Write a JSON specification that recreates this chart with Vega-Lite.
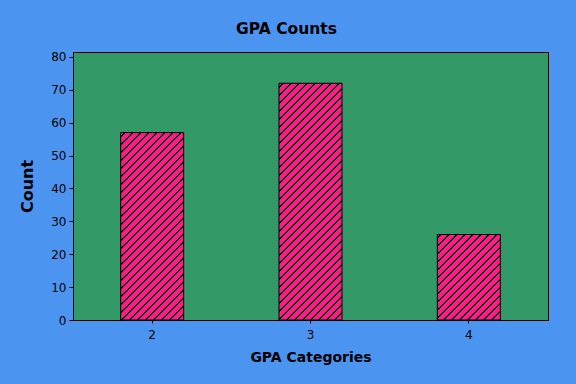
{
  "$schema": "https://vega.github.io/schema/vega-lite/v6.json",
  "width": 475,
  "height": 268,
  "autosize": {"type": "none"},
  "padding": {"left": 73, "top": 52, "right": 28, "bottom": 64},
  "background": "#4b95f1",
  "title": {"text": "GPA Counts", "font": "DejaVu Sans", "fontSize": 15.5, "fontWeight": "bold", "color": "#000000", "anchor": "middle", "frame": "group", "dx": -24, "offset": 1, "baseline": "alphabetic"},
  "data": {"values": [{"cat": 2, "count": 57}, {"cat": 3, "count": 72}, {"cat": 4, "count": 26}]},
  "encoding": {
    "x": {"field": "cat", "type": "ordinal", "scale": {"domain": [2, 3, 4], "paddingInner": 0.602, "paddingOuter": 0.301}, "axis": {"title": "GPA Categories", "labelAngle": 0, "titleFontSize": 14, "titlePadding": 10, "tickSize": 3, "labelPadding": 6}},
    "y": {"field": "count", "type": "quantitative", "scale": {"domain": [0, 81.5], "nice": false}, "axis": {"title": "Count", "values": [0, 10, 20, 30, 40, 50, 60, 70, 80], "titleFontSize": 16, "titlePadding": 15, "tickSize": 4, "labelPadding": 3}}
  },
  "layer": [
    {"transform": [{"filter": "datum.cat == 2"}], "mark": {"type": "bar", "stroke": "#000000", "strokeWidth": 1, "fill": {"gradient": "linear", "x1": 0, "y1": 0, "x2": 0.5158, "y2": 1.5342, "stops": [
      {"offset":0.0094,"color":"#ff1a8c"},{"offset":0.0094,"color":"#000"},{"offset":0.0156,"color":"#000"},{"offset":0.0156,"color":"#ff1a8c"},
      {"offset":0.0344,"color":"#ff1a8c"},{"offset":0.0344,"color":"#000"},{"offset":0.0406,"color":"#000"},{"offset":0.0406,"color":"#ff1a8c"},
      {"offset":0.0594,"color":"#ff1a8c"},{"offset":0.0594,"color":"#000"},{"offset":0.0656,"color":"#000"},{"offset":0.0656,"color":"#ff1a8c"},
      {"offset":0.0844,"color":"#ff1a8c"},{"offset":0.0844,"color":"#000"},{"offset":0.0906,"color":"#000"},{"offset":0.0906,"color":"#ff1a8c"},
      {"offset":0.1094,"color":"#ff1a8c"},{"offset":0.1094,"color":"#000"},{"offset":0.1156,"color":"#000"},{"offset":0.1156,"color":"#ff1a8c"},
      {"offset":0.1344,"color":"#ff1a8c"},{"offset":0.1344,"color":"#000"},{"offset":0.1406,"color":"#000"},{"offset":0.1406,"color":"#ff1a8c"},
      {"offset":0.1594,"color":"#ff1a8c"},{"offset":0.1594,"color":"#000"},{"offset":0.1656,"color":"#000"},{"offset":0.1656,"color":"#ff1a8c"},
      {"offset":0.1844,"color":"#ff1a8c"},{"offset":0.1844,"color":"#000"},{"offset":0.1906,"color":"#000"},{"offset":0.1906,"color":"#ff1a8c"},
      {"offset":0.2094,"color":"#ff1a8c"},{"offset":0.2094,"color":"#000"},{"offset":0.2156,"color":"#000"},{"offset":0.2156,"color":"#ff1a8c"},
      {"offset":0.2344,"color":"#ff1a8c"},{"offset":0.2344,"color":"#000"},{"offset":0.2406,"color":"#000"},{"offset":0.2406,"color":"#ff1a8c"},
      {"offset":0.2594,"color":"#ff1a8c"},{"offset":0.2594,"color":"#000"},{"offset":0.2656,"color":"#000"},{"offset":0.2656,"color":"#ff1a8c"},
      {"offset":0.2844,"color":"#ff1a8c"},{"offset":0.2844,"color":"#000"},{"offset":0.2906,"color":"#000"},{"offset":0.2906,"color":"#ff1a8c"},
      {"offset":0.3094,"color":"#ff1a8c"},{"offset":0.3094,"color":"#000"},{"offset":0.3156,"color":"#000"},{"offset":0.3156,"color":"#ff1a8c"},
      {"offset":0.3344,"color":"#ff1a8c"},{"offset":0.3344,"color":"#000"},{"offset":0.3406,"color":"#000"},{"offset":0.3406,"color":"#ff1a8c"},
      {"offset":0.3594,"color":"#ff1a8c"},{"offset":0.3594,"color":"#000"},{"offset":0.3656,"color":"#000"},{"offset":0.3656,"color":"#ff1a8c"},
      {"offset":0.3844,"color":"#ff1a8c"},{"offset":0.3844,"color":"#000"},{"offset":0.3906,"color":"#000"},{"offset":0.3906,"color":"#ff1a8c"},
      {"offset":0.4094,"color":"#ff1a8c"},{"offset":0.4094,"color":"#000"},{"offset":0.4156,"color":"#000"},{"offset":0.4156,"color":"#ff1a8c"},
      {"offset":0.4344,"color":"#ff1a8c"},{"offset":0.4344,"color":"#000"},{"offset":0.4406,"color":"#000"},{"offset":0.4406,"color":"#ff1a8c"},
      {"offset":0.4594,"color":"#ff1a8c"},{"offset":0.4594,"color":"#000"},{"offset":0.4656,"color":"#000"},{"offset":0.4656,"color":"#ff1a8c"},
      {"offset":0.4844,"color":"#ff1a8c"},{"offset":0.4844,"color":"#000"},{"offset":0.4906,"color":"#000"},{"offset":0.4906,"color":"#ff1a8c"},
      {"offset":0.5094,"color":"#ff1a8c"},{"offset":0.5094,"color":"#000"},{"offset":0.5156,"color":"#000"},{"offset":0.5156,"color":"#ff1a8c"},
      {"offset":0.5344,"color":"#ff1a8c"},{"offset":0.5344,"color":"#000"},{"offset":0.5406,"color":"#000"},{"offset":0.5406,"color":"#ff1a8c"},
      {"offset":0.5594,"color":"#ff1a8c"},{"offset":0.5594,"color":"#000"},{"offset":0.5656,"color":"#000"},{"offset":0.5656,"color":"#ff1a8c"},
      {"offset":0.5844,"color":"#ff1a8c"},{"offset":0.5844,"color":"#000"},{"offset":0.5906,"color":"#000"},{"offset":0.5906,"color":"#ff1a8c"},
      {"offset":0.6094,"color":"#ff1a8c"},{"offset":0.6094,"color":"#000"},{"offset":0.6156,"color":"#000"},{"offset":0.6156,"color":"#ff1a8c"},
      {"offset":0.6344,"color":"#ff1a8c"},{"offset":0.6344,"color":"#000"},{"offset":0.6406,"color":"#000"},{"offset":0.6406,"color":"#ff1a8c"},
      {"offset":0.6594,"color":"#ff1a8c"},{"offset":0.6594,"color":"#000"},{"offset":0.6656,"color":"#000"},{"offset":0.6656,"color":"#ff1a8c"},
      {"offset":0.6844,"color":"#ff1a8c"},{"offset":0.6844,"color":"#000"},{"offset":0.6906,"color":"#000"},{"offset":0.6906,"color":"#ff1a8c"},
      {"offset":0.7094,"color":"#ff1a8c"},{"offset":0.7094,"color":"#000"},{"offset":0.7156,"color":"#000"},{"offset":0.7156,"color":"#ff1a8c"},
      {"offset":0.7344,"color":"#ff1a8c"},{"offset":0.7344,"color":"#000"},{"offset":0.7406,"color":"#000"},{"offset":0.7406,"color":"#ff1a8c"},
      {"offset":0.7594,"color":"#ff1a8c"},{"offset":0.7594,"color":"#000"},{"offset":0.7656,"color":"#000"},{"offset":0.7656,"color":"#ff1a8c"},
      {"offset":0.7844,"color":"#ff1a8c"},{"offset":0.7844,"color":"#000"},{"offset":0.7906,"color":"#000"},{"offset":0.7906,"color":"#ff1a8c"}
    ]}}},
    {"transform": [{"filter": "datum.cat == 3"}], "mark": {"type": "bar", "stroke": "#000000", "strokeWidth": 1, "fill": {"gradient": "linear", "x1": 0, "y1": 0, "x2": 0.3358, "y2": 1.262, "stops": [
      {"offset":0.0094,"color":"#ff1a8c"},{"offset":0.0094,"color":"#000"},{"offset":0.0156,"color":"#000"},{"offset":0.0156,"color":"#ff1a8c"},
      {"offset":0.0344,"color":"#ff1a8c"},{"offset":0.0344,"color":"#000"},{"offset":0.0406,"color":"#000"},{"offset":0.0406,"color":"#ff1a8c"},
      {"offset":0.0594,"color":"#ff1a8c"},{"offset":0.0594,"color":"#000"},{"offset":0.0656,"color":"#000"},{"offset":0.0656,"color":"#ff1a8c"},
      {"offset":0.0844,"color":"#ff1a8c"},{"offset":0.0844,"color":"#000"},{"offset":0.0906,"color":"#000"},{"offset":0.0906,"color":"#ff1a8c"},
      {"offset":0.1094,"color":"#ff1a8c"},{"offset":0.1094,"color":"#000"},{"offset":0.1156,"color":"#000"},{"offset":0.1156,"color":"#ff1a8c"},
      {"offset":0.1344,"color":"#ff1a8c"},{"offset":0.1344,"color":"#000"},{"offset":0.1406,"color":"#000"},{"offset":0.1406,"color":"#ff1a8c"},
      {"offset":0.1594,"color":"#ff1a8c"},{"offset":0.1594,"color":"#000"},{"offset":0.1656,"color":"#000"},{"offset":0.1656,"color":"#ff1a8c"},
      {"offset":0.1844,"color":"#ff1a8c"},{"offset":0.1844,"color":"#000"},{"offset":0.1906,"color":"#000"},{"offset":0.1906,"color":"#ff1a8c"},
      {"offset":0.2094,"color":"#ff1a8c"},{"offset":0.2094,"color":"#000"},{"offset":0.2156,"color":"#000"},{"offset":0.2156,"color":"#ff1a8c"},
      {"offset":0.2344,"color":"#ff1a8c"},{"offset":0.2344,"color":"#000"},{"offset":0.2406,"color":"#000"},{"offset":0.2406,"color":"#ff1a8c"},
      {"offset":0.2594,"color":"#ff1a8c"},{"offset":0.2594,"color":"#000"},{"offset":0.2656,"color":"#000"},{"offset":0.2656,"color":"#ff1a8c"},
      {"offset":0.2844,"color":"#ff1a8c"},{"offset":0.2844,"color":"#000"},{"offset":0.2906,"color":"#000"},{"offset":0.2906,"color":"#ff1a8c"},
      {"offset":0.3094,"color":"#ff1a8c"},{"offset":0.3094,"color":"#000"},{"offset":0.3156,"color":"#000"},{"offset":0.3156,"color":"#ff1a8c"},
      {"offset":0.3344,"color":"#ff1a8c"},{"offset":0.3344,"color":"#000"},{"offset":0.3406,"color":"#000"},{"offset":0.3406,"color":"#ff1a8c"},
      {"offset":0.3594,"color":"#ff1a8c"},{"offset":0.3594,"color":"#000"},{"offset":0.3656,"color":"#000"},{"offset":0.3656,"color":"#ff1a8c"},
      {"offset":0.3844,"color":"#ff1a8c"},{"offset":0.3844,"color":"#000"},{"offset":0.3906,"color":"#000"},{"offset":0.3906,"color":"#ff1a8c"},
      {"offset":0.4094,"color":"#ff1a8c"},{"offset":0.4094,"color":"#000"},{"offset":0.4156,"color":"#000"},{"offset":0.4156,"color":"#ff1a8c"},
      {"offset":0.4344,"color":"#ff1a8c"},{"offset":0.4344,"color":"#000"},{"offset":0.4406,"color":"#000"},{"offset":0.4406,"color":"#ff1a8c"},
      {"offset":0.4594,"color":"#ff1a8c"},{"offset":0.4594,"color":"#000"},{"offset":0.4656,"color":"#000"},{"offset":0.4656,"color":"#ff1a8c"},
      {"offset":0.4844,"color":"#ff1a8c"},{"offset":0.4844,"color":"#000"},{"offset":0.4906,"color":"#000"},{"offset":0.4906,"color":"#ff1a8c"},
      {"offset":0.5094,"color":"#ff1a8c"},{"offset":0.5094,"color":"#000"},{"offset":0.5156,"color":"#000"},{"offset":0.5156,"color":"#ff1a8c"},
      {"offset":0.5344,"color":"#ff1a8c"},{"offset":0.5344,"color":"#000"},{"offset":0.5406,"color":"#000"},{"offset":0.5406,"color":"#ff1a8c"},
      {"offset":0.5594,"color":"#ff1a8c"},{"offset":0.5594,"color":"#000"},{"offset":0.5656,"color":"#000"},{"offset":0.5656,"color":"#ff1a8c"},
      {"offset":0.5844,"color":"#ff1a8c"},{"offset":0.5844,"color":"#000"},{"offset":0.5906,"color":"#000"},{"offset":0.5906,"color":"#ff1a8c"},
      {"offset":0.6094,"color":"#ff1a8c"},{"offset":0.6094,"color":"#000"},{"offset":0.6156,"color":"#000"},{"offset":0.6156,"color":"#ff1a8c"},
      {"offset":0.6344,"color":"#ff1a8c"},{"offset":0.6344,"color":"#000"},{"offset":0.6406,"color":"#000"},{"offset":0.6406,"color":"#ff1a8c"},
      {"offset":0.6594,"color":"#ff1a8c"},{"offset":0.6594,"color":"#000"},{"offset":0.6656,"color":"#000"},{"offset":0.6656,"color":"#ff1a8c"},
      {"offset":0.6844,"color":"#ff1a8c"},{"offset":0.6844,"color":"#000"},{"offset":0.6906,"color":"#000"},{"offset":0.6906,"color":"#ff1a8c"},
      {"offset":0.7094,"color":"#ff1a8c"},{"offset":0.7094,"color":"#000"},{"offset":0.7156,"color":"#000"},{"offset":0.7156,"color":"#ff1a8c"},
      {"offset":0.7344,"color":"#ff1a8c"},{"offset":0.7344,"color":"#000"},{"offset":0.7406,"color":"#000"},{"offset":0.7406,"color":"#ff1a8c"},
      {"offset":0.7594,"color":"#ff1a8c"},{"offset":0.7594,"color":"#000"},{"offset":0.7656,"color":"#000"},{"offset":0.7656,"color":"#ff1a8c"},
      {"offset":0.7844,"color":"#ff1a8c"},{"offset":0.7844,"color":"#000"},{"offset":0.7906,"color":"#000"},{"offset":0.7906,"color":"#ff1a8c"},
      {"offset":0.8094,"color":"#ff1a8c"},{"offset":0.8094,"color":"#000"},{"offset":0.8156,"color":"#000"},{"offset":0.8156,"color":"#ff1a8c"},
      {"offset":0.8344,"color":"#ff1a8c"},{"offset":0.8344,"color":"#000"},{"offset":0.8406,"color":"#000"},{"offset":0.8406,"color":"#ff1a8c"},
      {"offset":0.8594,"color":"#ff1a8c"},{"offset":0.8594,"color":"#000"},{"offset":0.8656,"color":"#000"},{"offset":0.8656,"color":"#ff1a8c"},
      {"offset":0.8844,"color":"#ff1a8c"},{"offset":0.8844,"color":"#000"},{"offset":0.8906,"color":"#000"},{"offset":0.8906,"color":"#ff1a8c"},
      {"offset":0.9094,"color":"#ff1a8c"},{"offset":0.9094,"color":"#000"},{"offset":0.9156,"color":"#000"},{"offset":0.9156,"color":"#ff1a8c"},
      {"offset":0.9344,"color":"#ff1a8c"},{"offset":0.9344,"color":"#000"},{"offset":0.9406,"color":"#000"},{"offset":0.9406,"color":"#ff1a8c"}
    ]}}},
    {"transform": [{"filter": "datum.cat == 4"}], "mark": {"type": "bar", "stroke": "#000000", "strokeWidth": 1, "fill": {"gradient": "linear", "x1": 0, "y1": 0, "x2": 1.7874, "y2": 2.4258, "stops": [
      {"offset":0.0094,"color":"#ff1a8c"},{"offset":0.0094,"color":"#000"},{"offset":0.0156,"color":"#000"},{"offset":0.0156,"color":"#ff1a8c"},
      {"offset":0.0344,"color":"#ff1a8c"},{"offset":0.0344,"color":"#000"},{"offset":0.0406,"color":"#000"},{"offset":0.0406,"color":"#ff1a8c"},
      {"offset":0.0594,"color":"#ff1a8c"},{"offset":0.0594,"color":"#000"},{"offset":0.0656,"color":"#000"},{"offset":0.0656,"color":"#ff1a8c"},
      {"offset":0.0844,"color":"#ff1a8c"},{"offset":0.0844,"color":"#000"},{"offset":0.0906,"color":"#000"},{"offset":0.0906,"color":"#ff1a8c"},
      {"offset":0.1094,"color":"#ff1a8c"},{"offset":0.1094,"color":"#000"},{"offset":0.1156,"color":"#000"},{"offset":0.1156,"color":"#ff1a8c"},
      {"offset":0.1344,"color":"#ff1a8c"},{"offset":0.1344,"color":"#000"},{"offset":0.1406,"color":"#000"},{"offset":0.1406,"color":"#ff1a8c"},
      {"offset":0.1594,"color":"#ff1a8c"},{"offset":0.1594,"color":"#000"},{"offset":0.1656,"color":"#000"},{"offset":0.1656,"color":"#ff1a8c"},
      {"offset":0.1844,"color":"#ff1a8c"},{"offset":0.1844,"color":"#000"},{"offset":0.1906,"color":"#000"},{"offset":0.1906,"color":"#ff1a8c"},
      {"offset":0.2094,"color":"#ff1a8c"},{"offset":0.2094,"color":"#000"},{"offset":0.2156,"color":"#000"},{"offset":0.2156,"color":"#ff1a8c"},
      {"offset":0.2344,"color":"#ff1a8c"},{"offset":0.2344,"color":"#000"},{"offset":0.2406,"color":"#000"},{"offset":0.2406,"color":"#ff1a8c"},
      {"offset":0.2594,"color":"#ff1a8c"},{"offset":0.2594,"color":"#000"},{"offset":0.2656,"color":"#000"},{"offset":0.2656,"color":"#ff1a8c"},
      {"offset":0.2844,"color":"#ff1a8c"},{"offset":0.2844,"color":"#000"},{"offset":0.2906,"color":"#000"},{"offset":0.2906,"color":"#ff1a8c"},
      {"offset":0.3094,"color":"#ff1a8c"},{"offset":0.3094,"color":"#000"},{"offset":0.3156,"color":"#000"},{"offset":0.3156,"color":"#ff1a8c"},
      {"offset":0.3344,"color":"#ff1a8c"},{"offset":0.3344,"color":"#000"},{"offset":0.3406,"color":"#000"},{"offset":0.3406,"color":"#ff1a8c"},
      {"offset":0.3594,"color":"#ff1a8c"},{"offset":0.3594,"color":"#000"},{"offset":0.3656,"color":"#000"},{"offset":0.3656,"color":"#ff1a8c"},
      {"offset":0.3844,"color":"#ff1a8c"},{"offset":0.3844,"color":"#000"},{"offset":0.3906,"color":"#000"},{"offset":0.3906,"color":"#ff1a8c"},
      {"offset":0.4094,"color":"#ff1a8c"},{"offset":0.4094,"color":"#000"},{"offset":0.4156,"color":"#000"},{"offset":0.4156,"color":"#ff1a8c"},
      {"offset":0.4344,"color":"#ff1a8c"},{"offset":0.4344,"color":"#000"},{"offset":0.4406,"color":"#000"},{"offset":0.4406,"color":"#ff1a8c"},
      {"offset":0.4594,"color":"#ff1a8c"},{"offset":0.4594,"color":"#000"},{"offset":0.4656,"color":"#000"},{"offset":0.4656,"color":"#ff1a8c"}
    ]}}}
  ],
  "config": {
    "view": {"fill": "#339966", "stroke": "#000000", "strokeWidth": 1},
    "axis": {"domainColor": "#000000", "tickColor": "#000000", "labelColor": "#000000", "titleColor": "#000000", "labelFont": "DejaVu Sans", "labelFontSize": 12, "titleFont": "DejaVu Sans", "titleFontWeight": "bold", "grid": false}
  }
}
